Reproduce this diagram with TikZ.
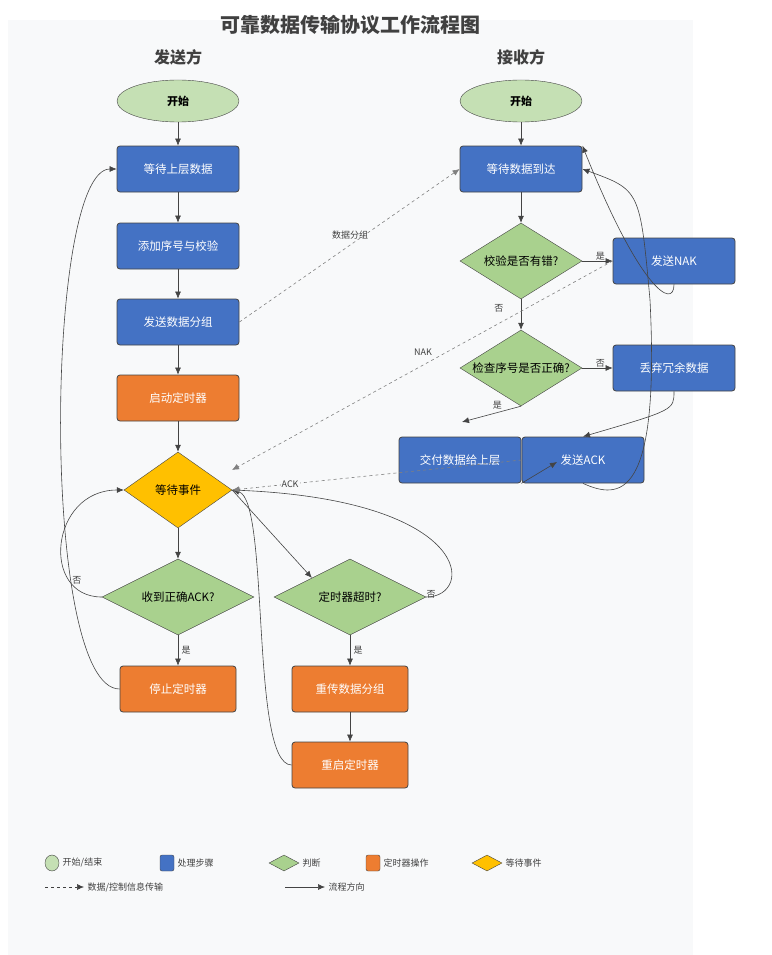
\documentclass[tikz,border=0pt]{standalone}
\usepackage{fontspec}
\setmainfont{Noto Sans CJK SC}
\usetikzlibrary{arrows.meta,shapes.geometric}
\definecolor{procblue}{HTML}{4472C4}
\definecolor{timorange}{HTML}{ED7D31}
\definecolor{judgegreen}{HTML}{A9D18E}
\definecolor{startgreen}{HTML}{C5E0B4}
\definecolor{waityellow}{HTML}{FFC000}
\definecolor{panelgray}{HTML}{F8F9FA}
\definecolor{linegray}{HTML}{444444}
\begin{document}
\begin{tikzpicture}[x=1pt,y=-1pt,font=\fontsize{11.5}{13}\selectfont,
  startend/.style={ellipse,draw=linegray,fill=startgreen,minimum width=122pt,minimum height=42pt,font=\fontsize{11}{13}\selectfont\bfseries},
  proc/.style={rectangle,rounded corners=3pt,draw=linegray,thick,fill=procblue,text=white,minimum width=122pt,minimum height=46pt},
  timer/.style={proc,fill=timorange,minimum width=116pt},
  judge/.style={diamond,draw=linegray,fill=judgegreen,aspect=1.6,inner sep=1pt,minimum width=122pt,minimum height=76pt},
  flow/.style={-{Latex[length=7pt,width=6pt]},linegray,semithick},
  msg/.style={flow,dashed,gray},
  lbl/.style={font=\fontsize{9}{11}\selectfont,text=darkgray}]
\useasboundingbox (0,0) rectangle (771,955);
\fill[panelgray] (8,20) rectangle (693,955);
\node[font=\fontsize{20}{22}\selectfont\bfseries,text=darkgray] (title) at (350,25) {可靠数据传输协议工作流程图};
\node[font=\fontsize{16}{18}\selectfont\bfseries,text=darkgray] (sender) at (178,57) {发送方};
\node[font=\fontsize{16}{18}\selectfont\bfseries,text=darkgray] (receiver) at (521,57) {接收方};
% sender side
\node[startend] (sstart) at (178,101) {开始};
\node[proc] (waitup) at (178,169) {等待上层数据};
\node[proc] (addseq) at (178,246) {添加序号与校验};
\node[proc] (sendpkt) at (178,322) {发送数据分组};
\node[timer,minimum width=122pt] (starttm) at (178,398) {启动定时器};
\node[judge,fill=waityellow,minimum width=108pt,aspect=1.4] (waitev) at (178,490) {等待事件};
\node[judge,minimum width=152pt,aspect=2] (gotack) at (178,597) {收到正确ACK?};
\node[timer] (stoptm) at (178,689) {停止定时器};
\node[judge,minimum width=152pt,aspect=2] (tmout) at (350,597) {定时器超时?};
\node[timer] (resend) at (350,689) {重传数据分组};
\node[timer] (restart) at (350,765) {重启定时器};
% receiver side
\node[startend] (rstart) at (521,101) {开始};
\node[proc] (waitdata) at (521,169) {等待数据到达};
\node[judge] (chkerr) at (521,261) {校验是否有错?};
\node[proc] (sendnak) at (674,261) {发送NAK};
\node[judge] (chkseq) at (521,368) {检查序号是否正确?};
\node[proc] (discard) at (674,368) {丢弃冗余数据};
\node[proc] (deliver) at (460,460) {交付数据给上层};
\node[proc] (sendack) at (583,460) {发送ACK};
\coordinate (nakin) at (232,470);
\coordinate (delivin) at (462,422);
\coordinate (ackin) at (557,462);
% sender flow
\draw[flow] (sstart) -- (waitup);
\draw[flow] (waitup) -- (addseq);
\draw[flow] (addseq) -- (sendpkt);
\draw[flow] (sendpkt) -- (starttm);
\draw[flow] (starttm) -- (waitev);
\draw[flow] (waitev) -- (gotack);
\draw[flow] (gotack) -- node[lbl,right] {是} (stoptm);
\draw[flow] (gotack.west) .. controls (40,597) and (50,490) .. node[lbl,pos=0.25,right] {否} (waitev.west);
\draw[flow] (stoptm.west) .. controls (40,689) and (45,169) .. (waitup.west);
\draw[flow] (waitev.east) -- (tmout.north west);
\draw[flow] (tmout) -- node[lbl,right] {是} (resend);
\draw[flow] (resend) -- (restart);
\draw[flow] (tmout.east) .. controls (475,597) and (475,500) .. node[lbl,pos=0.1,left] {否} (waitev.east);
\draw[flow] (restart.west) .. controls (250,765) and (270,500) .. (waitev.east);
% receiver flow
\draw[flow] (rstart) -- (waitdata);
\draw[flow] (waitdata) -- (chkerr);
\draw[flow] (chkerr) -- node[lbl,above,pos=0.6,yshift=-3pt] {是} (sendnak);
\draw[flow] (chkerr) -- node[lbl,left,pos=0.3,xshift=-14pt] {否} (chkseq);
\draw[flow] (chkseq) -- node[lbl,above,pos=0.6,yshift=-3pt] {否} (discard);
\draw[flow] (chkseq.south) -- node[lbl,above,pos=0.4] {是} (delivin);
\draw[flow] (discard.south) .. controls (674,410) .. (sendack.north);
\draw[flow] (deliver.south east) -- (ackin);
\draw[flow] (sendnak.south) .. controls (674,310) and (640,290) .. (waitdata.north east);
\draw[flow] (sendack.south) .. controls (620,500) and (660,500) .. (650,300) .. controls (640,190) .. (waitdata.east);
% messages
\draw[msg] (sendpkt.east) -- (waitdata.west);
\node[lbl] (pktlbl) at (350,235) {数据分组};
\draw[msg] (sendnak.west) -- (nakin);
\node[lbl] (naklbl) at (423,352) {NAK};
\draw[msg] (sendack.west) -- node[lbl,pos=0.8,fill=panelgray,inner sep=1pt] {ACK} (waitev.east);
% legend
\node[ellipse,draw=linegray,fill=startgreen,minimum width=14pt,minimum height=16pt,inner sep=0pt] (lgstart) at (52,863) {};
\node[lbl,right] (lgstartt) at (lgstart.east) {开始/结束};
\node[rectangle,rounded corners=2pt,draw=linegray,fill=procblue,minimum width=14pt,minimum height=16pt,inner sep=0pt] (lgproc) at (167,863) {};
\node[lbl,right] (lgproct) at (lgproc.east) {处理步骤};
\node[diamond,aspect=2,draw=linegray,fill=judgegreen,minimum width=30pt,minimum height=16pt,inner sep=0pt] (lgjudge) at (284,863) {};
\node[lbl,right] (lgjudget) at (lgjudge.east) {判断};
\node[rectangle,rounded corners=2pt,draw=linegray,fill=timorange,minimum width=14pt,minimum height=16pt,inner sep=0pt] (lgtimer) at (373,863) {};
\node[lbl,right] (lgtimert) at (lgtimer.east) {定时器操作};
\node[diamond,aspect=2,draw=linegray,fill=waityellow,minimum width=30pt,minimum height=16pt,inner sep=0pt] (lgwait) at (487,863) {};
\node[lbl,right] (lgwaitt) at (lgwait.east) {等待事件};
\coordinate (lgmsga) at (45,887);
\coordinate (lgmsgb) at (84,887);
\draw[msg,darkgray] (lgmsga) -- (lgmsgb);
\node[lbl,right] (lgmsgt) at (lgmsgb) {数据/控制信息传输};
\coordinate (lgflowa) at (285,887);
\coordinate (lgflowb) at (325,887);
\draw[flow] (lgflowa) -- (lgflowb);
\node[lbl,right] (lgflowt) at (lgflowb) {流程方向};
\end{tikzpicture}
\end{document}
